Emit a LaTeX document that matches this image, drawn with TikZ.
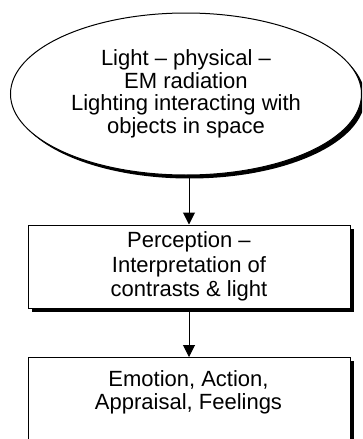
\documentclass[tikz,border=0pt]{standalone}
\usepackage{fontspec}
\setmainfont{Liberation Sans}
\usetikzlibrary{shapes.geometric,arrows.meta,shadows}
\begin{document}
\begin{tikzpicture}[x=1pt,y=-1pt,
  base/.style={draw=black,line width=1pt,fill=white,inner sep=0pt,align=center,
    font=\fontsize{22}{22.5}\selectfont,
    drop shadow={shadow xshift=3.5pt,shadow yshift=-3.5pt,opacity=1,fill=black}},
  oval/.style={base,ellipse,minimum width=351pt,minimum height=162pt},
  boxnode/.style={base,rectangle,minimum width=322pt},
  txt/.style={inner sep=0pt,align=center,font=\fontsize{22}{22.5}\selectfont},
  arr/.style={-{Triangle[width=12pt,length=12pt]},line width=1pt}]
\useasboundingbox (0,0) rectangle (362,439);
\clip (0,0) rectangle (362,439);
\node[oval] (light) at (186,94) {Light – physical –\\EM radiation\\Lighting interacting with\\objects in space};
\node[boxnode,minimum height=83pt,font=\fontsize{22}{24.5}\selectfont] (perc) at (189,266.5) {Perception –\\Interpretation of\\contrasts \& light};
\node[boxnode,minimum height=110pt,anchor=north] (emo) at (189,357) {};
\node[txt] (emotxt) at (188.5,392.5) {Emotion, Action,\\Appraisal, Feelings};
\draw[arr] (light.south -| perc.north) -- (perc.north);
\draw[arr] (perc.south) -- (emo.north);
\end{tikzpicture}
\end{document}
